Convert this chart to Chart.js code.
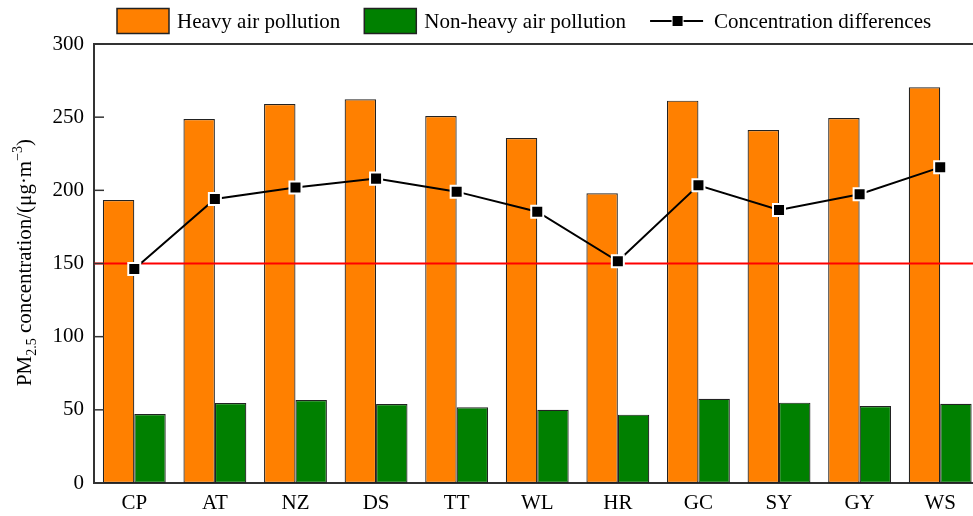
<!DOCTYPE html>
<html>
<head>
<meta charset="utf-8">
<script src="https://cdn.jsdelivr.net/npm/chart.js@4/dist/chart.umd.min.js"></script>
<style>
  html, body { margin: 0; padding: 0; background: #fff; overflow: hidden; }
  #wrap { position: relative; width: 991px; height: 516px; }
</style>
</head>
<body>
<div id="wrap"><canvas id="chart"></canvas></div>
<script>
const categories = ["CP", "AT", "NZ", "DS", "TT", "WL", "HR", "GC", "SY", "GY", "WS"];
const heavyValues = [193.4, 248.7, 259, 262.2, 250.8, 235.8, 198, 261.3, 241.2, 249.4, 270.4];
const nonHeavyValues = [47.2, 54.7, 56.7, 54, 51.7, 50.1, 46.7, 57.6, 54.9, 52.6, 54.2];
const diffValues = [146.2, 194.1, 202, 208, 199.1, 185.4, 151.5, 203.4, 186.6, 197.3, 215.7];
const threshold = 150;
const yTicks = [0, 50, 100, 150, 200, 250, 300];

const FONT = "'Liberation Serif', 'DejaVu Serif', serif";
const ORANGE = "#ff8000";
const GREEN = "#008000";
const AXIS = "#333";

// legend, frame, inner ticks, threshold line and the y title
const decorPlugin = {
  id: "decor",
  beforeDatasetDraw(chart, args) {
    if (args.index !== 2) return;
    const { ctx, chartArea } = chart;
    const y = chart.scales.y.getPixelForValue(threshold);
    ctx.save();
    ctx.strokeStyle = "#ff0000";
    ctx.lineWidth = 2;
    ctx.beginPath();
    ctx.moveTo(chartArea.left, y);
    ctx.lineTo(chartArea.right, y);
    ctx.stroke();
    ctx.restore();
  },
  afterDraw(chart) {
    const { ctx, chartArea } = chart;
    const ys = chart.scales.y;
    ctx.save();
    // top frame
    ctx.strokeStyle = AXIS;
    ctx.lineWidth = 2;
    ctx.beginPath();
    ctx.moveTo(chartArea.left - 1, chartArea.top);
    ctx.lineTo(chartArea.right, chartArea.top);
    ctx.stroke();
    // inward ticks
    ctx.lineWidth = 1.5;
    yTicks.forEach(v => {
      const y = ys.getPixelForValue(v);
      ctx.beginPath();
      ctx.moveTo(chartArea.left, y);
      ctx.lineTo(chartArea.left + 10, y);
      ctx.stroke();
    });

    // legend
    ctx.font = "21px " + FONT;
    ctx.textBaseline = "middle";
    ctx.fillStyle = "#000";
    let x = 117;
    const cy = 21;
    chart.data.datasets.forEach(ds => {
      if (ds.type === "line") {
        ctx.strokeStyle = "#000";
        ctx.lineWidth = 2;
        ctx.beginPath();
        ctx.moveTo(x, cy);
        ctx.lineTo(x + 53, cy);
        ctx.stroke();
        ctx.fillStyle = "#fff";
        ctx.fillRect(x + 21.5, cy - 6, 12, 12);
        ctx.fillStyle = "#000";
        ctx.fillRect(x + 22.5, cy - 5, 10, 10);
        x += 64;
      } else {
        ctx.fillStyle = ds.backgroundColor;
        ctx.fillRect(x, 8.5, 52, 25);
        ctx.strokeStyle = "#222";
        ctx.lineWidth = 1.5;
        ctx.strokeRect(x, 8.5, 52, 25);
        x += 60;
      }
      ctx.fillStyle = "#000";
      ctx.fillText(ds.label, x, cy + 1);
      x += ctx.measureText(ds.label).width + 24;
    });

    // y axis title with sub/superscripts
    const parts = [
      { t: "PM", size: 21, dy: 0 },
      { t: "2.5", size: 14, dy: 5 },
      { t: " concentration/(μg·m", size: 21, dy: 0 },
      { t: "−3", size: 14, dy: -9 },
      { t: ")", size: 21, dy: 0 }
    ];
    let total = 0;
    parts.forEach(p => {
      ctx.font = p.size + "px " + FONT;
      p.w = ctx.measureText(p.t).width;
      total += p.w;
    });
    ctx.translate(24, (chartArea.top + chartArea.bottom) / 2 - 1);
    ctx.rotate(-Math.PI / 2);
    ctx.textBaseline = "alphabetic";
    ctx.textAlign = "left";
    let tx = -total / 2;
    parts.forEach(p => {
      ctx.font = p.size + "px " + FONT;
      ctx.fillText(p.t, tx, 7 + p.dy);
      tx += p.w;
    });
    ctx.restore();
  }
};

new Chart(document.getElementById("chart"), {
  type: "bar",
  data: {
    labels: categories,
    datasets: [
      {
        label: "Heavy air pollution",
        data: heavyValues,
        backgroundColor: ORANGE,
        borderColor: "#222",
        borderWidth: 1.2,
        borderSkipped: false,
        categoryPercentage: 0.78,
        barPercentage: 1.0,
        order: 1
      },
      {
        label: "Non-heavy air pollution",
        data: nonHeavyValues,
        backgroundColor: GREEN,
        borderColor: "#222",
        borderWidth: 1.2,
        borderSkipped: false,
        categoryPercentage: 0.78,
        barPercentage: 1.0,
        order: 1
      },
      {
        type: "line",
        label: "Concentration differences",
        data: diffValues,
        borderColor: "#000",
        borderWidth: 2,
        pointStyle: "rect",
        pointRadius: 8.5,
        pointBackgroundColor: "#000",
        pointBorderColor: "#fff",
        pointBorderWidth: 2,
        tension: 0,
        order: 0
      }
    ]
  },
  options: {
    responsive: true,
    maintainAspectRatio: false,
    animation: false,
    layout: { padding: { top: 44, right: 0, left: 0, bottom: 0 } },
    plugins: {
      legend: { display: false },
      tooltip: { enabled: false }
    },
    scales: {
      x: {
        grid: { display: false, drawTicks: false },
        border: { display: true, color: AXIS, width: 2 },
        ticks: { color: "#000", font: { family: FONT, size: 21 }, padding: 8, maxRotation: 0 },
        afterFit(scale) { scale.height = 33; }
      },
      y: {
        min: 0,
        max: 300,
        grid: { display: false, drawTicks: false },
        border: { display: true, color: AXIS, width: 2 },
        ticks: { stepSize: 50, color: "#000", font: { family: FONT, size: 21 }, padding: 10 },
        afterFit(scale) { scale.width = 94; }
      }
    }
  },
  plugins: [decorPlugin]
});
</script>
</body>
</html>
